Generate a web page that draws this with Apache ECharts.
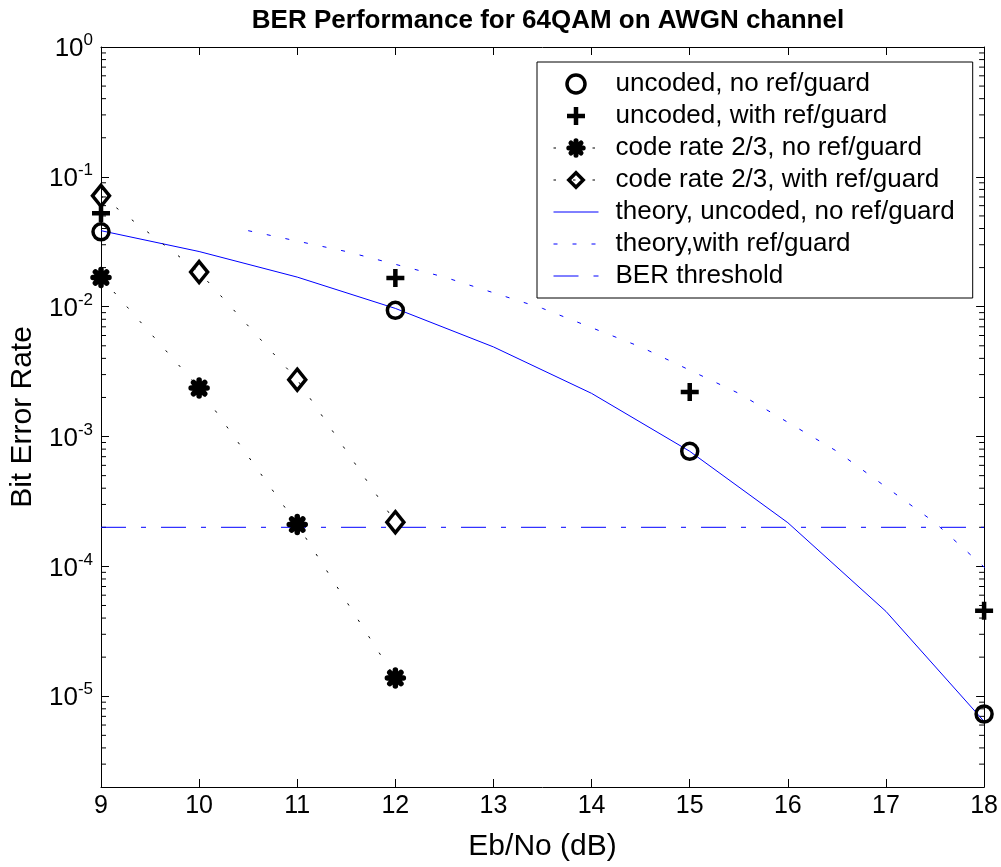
<!DOCTYPE html>
<html><head><meta charset="utf-8">
<script src="https://cdn.jsdelivr.net/npm/echarts@6/dist/echarts.min.js"></script>
<style>html,body{margin:0;padding:0;background:#fff}#c{width:1001px;height:867px}</style>
</head><body><div id="c"></div>
<script>
// ---- data ----
const titleText = 'BER Performance for 64QAM on AWGN channel';
const xName = 'Eb/No (dB)';
const yName = 'Bit Error Rate';
const xTicks = [9, 10, 11, 12, 13, 14, 15, 16, 17, 18];
const seriesNames = [
  'uncoded, no ref/guard',
  'uncoded, with ref/guard',
  'code rate 2/3, no ref/guard',
  'code rate 2/3, with ref/guard',
  'theory, uncoded, no ref/guard',
  'theory,with ref/guard',
  'BER threshold'
];
const snrUncoded = [9, 12, 15, 18];
const uncodedNoRef = [0.0377, 0.00938, 0.00077, 0.0000073];
const uncodedWithRef = [0.0525, 0.0166, 0.0022, 0.0000456];
const snrCoded = [9, 10, 11, 12];
const codedNoRef = [0.0168, 0.00236, 0.00021, 0.0000138];
const codedWithRef = [0.0714, 0.0185, 0.00274, 0.000219];
const snrTheory = [9, 10, 11, 12, 13, 14, 15, 16, 17, 18];
const theoryNoRef = [0.0385, 0.0266, 0.0169, 0.0097, 0.0049, 0.00215, 0.00077, 0.000217, 0.000045, 0.0000064];
const snrTheoryRef = [10.5, 11.5, 12.5, 13.5, 14.5, 15.5, 16.5, 17.5, 18.5];
const theoryWithRef = [0.0385, 0.0266, 0.0169, 0.0097, 0.0049, 0.00215, 0.00077, 0.000217, 0.000045];
const thresholdX = [9, 18];
const thresholdY = [2e-4, 2e-4];
const yMin = 2e-6, yMax = 1;
const xMin = 9, xMax = 18;

// ---- build ----
const pairs = (xs, ys) => xs.map((x, i) => [x, ys[i]]);
const FONT = '"Liberation Sans", Arial, Helvetica, sans-serif';
const BLUE = '#0000ff';
const PLUS = 'path://M0,-10L0,10M-10,0L10,0';
const STAR = 'path://M0,-10L0,10M-10,0L10,0M-7,-7L7,7M-7,7L7,-7';

const minorVals = [];
for (let e = -6; e < 0; e++) {
  for (let m = 2; m <= 9; m++) {
    const v = m * Math.pow(10, e);
    if (v > yMin && v < yMax) minorVals.push([xMin, v]);
  }
}

const chart = echarts.init(document.getElementById('c'), null, {renderer: 'canvas'});
const yLabel = {
  fontSize: 26, color: '#000', margin: 8, fontFamily: FONT,
  formatter: function (v) {
    const l = Math.log10(v);
    const e = Math.round(l);
    if (Math.abs(l - e) > 1e-6) return '';
    return '{b|10}{e|' + e + '}';
  },
  rich: {
    b: {fontSize: 26, fontFamily: FONT, color: '#000', lineHeight: 30, verticalAlign: 'bottom'},
    e: {fontSize: 17, fontFamily: FONT, color: '#000', lineHeight: 14, verticalAlign: 'top'}
  }
};
const hollow = 'rgba(0,0,0,0)';
chart.setOption({
  animation: false,
  backgroundColor: '#fff',
  textStyle: {fontFamily: FONT},
  title: {
    text: titleText, left: 543, top: 3, textAlign: 'center',
    textStyle: {fontSize: 26, fontWeight: 'bold', color: '#000', fontFamily: FONT}
  },
  grid: {left: 101, right: 16, top: 47, bottom: 79, containLabel: false},
  legend: {
    orient: 'vertical', left: 537, top: 62,
    padding: [9, 18, 9, 16],
    itemWidth: 45, itemHeight: 18, itemGap: 6,
    backgroundColor: '#fff', borderColor: '#000', borderWidth: 1,
    textStyle: {fontSize: 26, lineHeight: 26, color: '#000', fontFamily: FONT, padding: [0, 0, 0, 12]},
    selectedMode: false,
    data: [
      {name: seriesNames[0], itemStyle: {color: hollow, borderColor: '#000', borderWidth: 3.5}},
      {name: seriesNames[1], itemStyle: {color: hollow, borderColor: '#000', borderWidth: 4.5}},
      {name: seriesNames[2], itemStyle: {color: hollow, borderColor: '#000', borderWidth: 5}, lineStyle: {color: '#000', width: 1, type: [2.5, 17]}},
      {name: seriesNames[3], itemStyle: {color: hollow, borderColor: '#000', borderWidth: 3.5}, lineStyle: {color: '#000', width: 1, type: [2.5, 17]}},
      {name: seriesNames[4], itemStyle: {opacity: 0}, lineStyle: {color: BLUE, width: 1, type: 'solid'}},
      {name: seriesNames[5], itemStyle: {opacity: 0}, lineStyle: {color: BLUE, width: 1, type: [4, 15]}},
      {name: seriesNames[6], itemStyle: {opacity: 0}, lineStyle: {color: BLUE, width: 1, type: [25, 15, 5, 15]}}
    ]
  },
  xAxis: [{
    type: 'value', min: xMin, max: xMax, interval: 1, position: 'bottom',
    name: xName, nameLocation: 'middle', nameGap: 45,
    nameTextStyle: {fontSize: 30, color: '#000', fontFamily: FONT},
    axisLine: {show: true, onZero: false, lineStyle: {color: '#000', width: 1}},
    axisTick: {show: true, inside: true, length: 8, lineStyle: {color: '#000'}},
    axisLabel: {fontSize: 25, color: '#000', margin: 7, fontFamily: FONT},
    splitLine: {show: false}
  }, {
    type: 'value', min: xMin, max: xMax, interval: 1, position: 'top',
    axisLine: {show: true, onZero: false, lineStyle: {color: '#000', width: 1}},
    axisTick: {show: true, inside: true, length: 8, lineStyle: {color: '#000'}},
    axisLabel: {show: false}, splitLine: {show: false}
  }],
  yAxis: [{
    type: 'log', logBase: 10, min: yMin, max: yMax, position: 'left',
    name: yName, nameLocation: 'middle', nameGap: 60,
    nameTextStyle: {fontSize: 30, color: '#000', fontFamily: FONT},
    axisLine: {show: true, onZero: false, lineStyle: {color: '#000', width: 1}},
    axisTick: {show: true, inside: true, length: 8, lineStyle: {color: '#000'}},
    axisLabel: yLabel, splitLine: {show: false}, minorTick: {show: false}
  }, {
    type: 'log', logBase: 10, min: yMin, max: yMax, position: 'right',
    axisLine: {show: true, onZero: false, lineStyle: {color: '#000', width: 1}},
    axisTick: {show: true, inside: true, length: 8, lineStyle: {color: '#000'}},
    axisLabel: {show: false}, splitLine: {show: false}
  }],
  series: [
    {
      name: 'minor', type: 'custom', silent: true, clip: false, z: 1,
      data: minorVals,
      renderItem: function (params, api) {
        const v = api.value(1);
        const pl = api.coord([xMin, v]);
        const pr = api.coord([xMax, v]);
        const st = {stroke: '#000', lineWidth: 1};
        return {type: 'group', children: [
          {type: 'line', shape: {x1: pl[0], y1: pl[1], x2: pl[0] + 5, y2: pl[1]}, style: st},
          {type: 'line', shape: {x1: pr[0] - 5, y1: pr[1], x2: pr[0], y2: pr[1]}, style: st}
        ]};
      }
    },
    {
      name: seriesNames[4], type: 'line', data: pairs(snrTheory, theoryNoRef),
      symbol: 'none', showSymbol: false, z: 3,
      lineStyle: {color: BLUE, width: 1, type: 'solid'}, itemStyle: {color: BLUE}
    },
    {
      name: seriesNames[5], type: 'line', data: pairs(snrTheoryRef, theoryWithRef),
      symbol: 'none', showSymbol: false, clip: true, z: 3,
      lineStyle: {color: BLUE, width: 1, type: [4, 15]}, itemStyle: {color: BLUE}
    },
    {
      name: seriesNames[6], type: 'line', data: pairs(thresholdX, thresholdY),
      symbol: 'none', showSymbol: false, z: 3,
      lineStyle: {color: BLUE, width: 1, type: [25, 15, 5, 15]}, itemStyle: {color: BLUE}
    },
    {
      name: seriesNames[2], type: 'line', data: pairs(snrCoded, codedNoRef),
      symbol: STAR, symbolSize: 16, showSymbol: true, z: 4,
      lineStyle: {color: '#000', width: 1, type: [2.5, 17]},
      itemStyle: {color: hollow, borderColor: '#000', borderWidth: 5.5, borderCap: 'round'}
    },
    {
      name: seriesNames[3], type: 'line', data: pairs(snrCoded, codedWithRef),
      symbol: 'diamond', symbolSize: [17, 21], showSymbol: true, z: 4,
      lineStyle: {color: '#000', width: 1, type: [2.5, 17]},
      itemStyle: {color: hollow, borderColor: '#000', borderWidth: 3.5}
    },
    {
      name: seriesNames[0], type: 'scatter', data: pairs(snrUncoded, uncodedNoRef),
      symbol: 'circle', symbolSize: 16, z: 5,
      itemStyle: {color: hollow, borderColor: '#000', borderWidth: 3.5, opacity: 1}
    },
    {
      name: seriesNames[1], type: 'scatter', data: pairs(snrUncoded, uncodedWithRef),
      symbol: PLUS, symbolSize: 18, z: 5,
      itemStyle: {color: hollow, borderColor: '#000', borderWidth: 4.5, opacity: 1}
    }
  ]
});
</script>
</body></html>
